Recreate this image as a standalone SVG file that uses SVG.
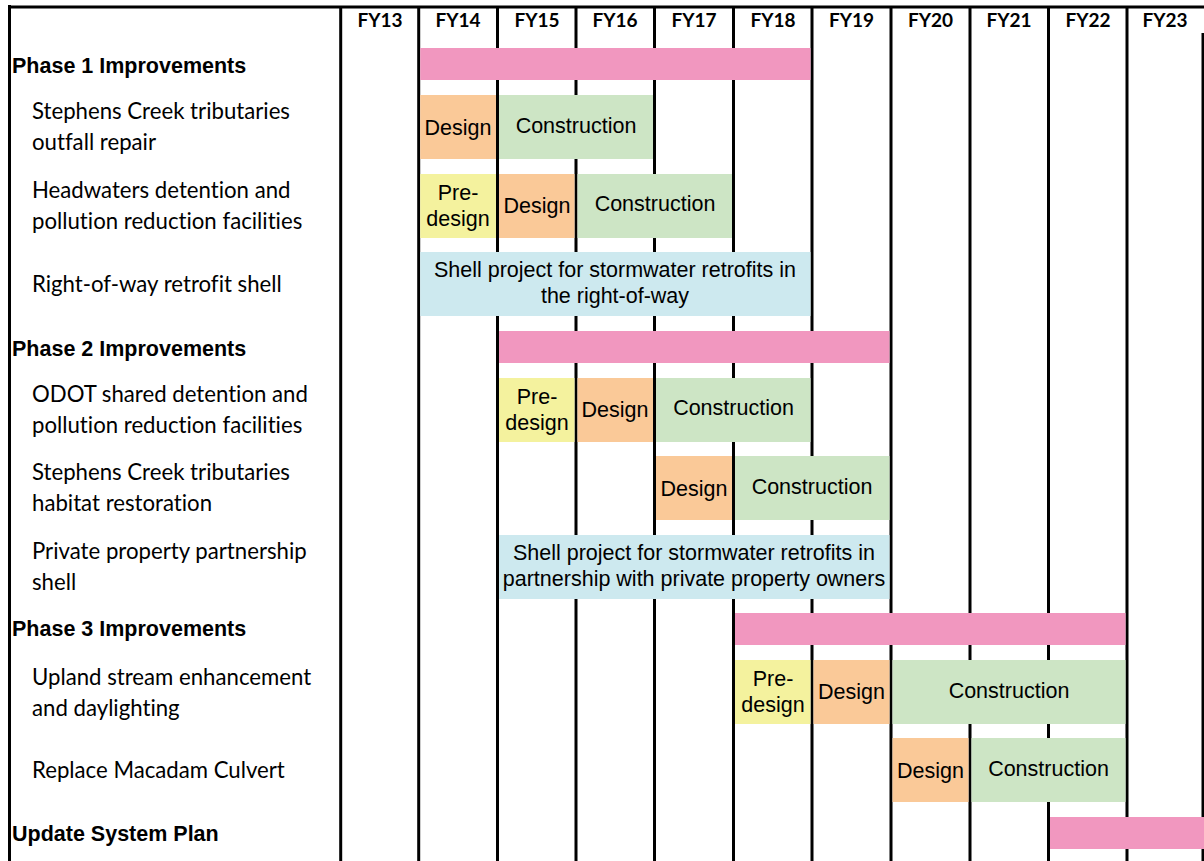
<svg xmlns="http://www.w3.org/2000/svg" width="1204" height="861" viewBox="0 0 1204 861">
<style>
.grid{stroke:#000;stroke-width:3;fill:none}
.hdr{font-family:Lato,"Liberation Sans",sans-serif;font-weight:bold;font-size:19px;text-anchor:middle;fill:#000}
.ph{font-family:"Liberation Sans",Arial,sans-serif;font-weight:bold;font-size:21.5px;fill:#000}
.lbl{font-family:Lato,"Liberation Sans",sans-serif;font-size:22.2px;fill:#000;font-variant-ligatures:none}
.bt{font-family:"Liberation Sans",Arial,sans-serif;font-size:21.5px;text-anchor:middle;fill:#000}
.pink{fill:#F197BF}
.des{fill:#FAC998}
.con{fill:#CDE5C5}
.pre{fill:#F4F29E}
.shl{fill:#CDE9EF}
</style>
<rect width="1204" height="861" fill="#fff"/>
<g id="grid">
<line class="grid" x1="8" y1="7" x2="1204" y2="7" stroke-width="3.5"/>
<line class="grid" x1="9.5" y1="5" x2="9.5" y2="861"/>
<line class="grid" x1="340.7" y1="7" x2="340.7" y2="861"/>
<line class="grid" x1="418.7" y1="7" x2="418.7" y2="861"/>
<line class="grid" x1="497.5" y1="7" x2="497.5" y2="861"/>
<line class="grid" x1="576" y1="7" x2="576" y2="861"/>
<line class="grid" x1="654.5" y1="7" x2="654.5" y2="861"/>
<line class="grid" x1="733.5" y1="7" x2="733.5" y2="861"/>
<line class="grid" x1="812" y1="7" x2="812" y2="861"/>
<line class="grid" x1="891" y1="7" x2="891" y2="861"/>
<line class="grid" x1="970" y1="7" x2="970" y2="861"/>
<line class="grid" x1="1048.5" y1="7" x2="1048.5" y2="861"/>
<line class="grid" x1="1127" y1="7" x2="1127" y2="861"/>
<line class="grid" x1="1203" y1="33" x2="1203" y2="861"/>
</g>
<g id="header">
<text class="hdr" x="380" y="27">FY13</text>
<text class="hdr" x="458" y="27">FY14</text>
<text class="hdr" x="537" y="27">FY15</text>
<text class="hdr" x="615" y="27">FY16</text>
<text class="hdr" x="694" y="27">FY17</text>
<text class="hdr" x="773" y="27">FY18</text>
<text class="hdr" x="851.5" y="27">FY19</text>
<text class="hdr" x="930.5" y="27">FY20</text>
<text class="hdr" x="1009" y="27">FY21</text>
<text class="hdr" x="1088" y="27">FY22</text>
<text class="hdr" x="1165" y="27">FY23</text>
</g>
<g id="phase1">
<text class="ph" x="12" y="72.5">Phase 1 Improvements</text>
<rect class="pink" x="420.2" y="48" width="390.3" height="32"/>
</g>
<g id="task-outfall">
<text class="lbl" x="32" y="119">Stephens Creek tributaries</text>
<text class="lbl" x="32" y="150">outfall repair</text>
<rect class="des" x="420.2" y="95" width="75.8" height="64"/>
<text class="bt" x="458" y="134.5">Design</text>
<rect class="con" x="499" y="95" width="154" height="64"/>
<text class="bt" x="576" y="133">Construction</text>
</g>
<g id="task-headwaters">
<text class="lbl" x="32" y="198">Headwaters detention and</text>
<text class="lbl" x="32" y="229">pollution reduction facilities</text>
<rect class="pre" x="420.2" y="174" width="75.8" height="64"/>
<text class="bt" x="458" y="200">Pre-</text>
<text class="bt" x="458" y="226">design</text>
<rect class="des" x="499" y="174" width="75.5" height="64"/>
<text class="bt" x="537" y="212.5">Design</text>
<rect class="con" x="577.5" y="174" width="154.5" height="64"/>
<text class="bt" x="655" y="211">Construction</text>
</g>
<g id="task-row">
<text class="lbl" x="32" y="292">Right-of-way retrofit shell</text>
<rect class="shl" x="420.2" y="252" width="390.3" height="64"/>
<text class="bt" x="615" y="277">Shell project for stormwater retrofits in</text>
<text class="bt" x="615" y="303">the right-of-way</text>
</g>
<g id="phase2">
<text class="ph" x="12" y="356">Phase 2 Improvements</text>
<rect class="pink" x="499" y="331" width="390.5" height="32"/>
</g>
<g id="task-odot">
<text class="lbl" x="32" y="402">ODOT shared detention and</text>
<text class="lbl" x="32" y="433">pollution reduction facilities</text>
<rect class="pre" x="499" y="378" width="75.5" height="64"/>
<text class="bt" x="537" y="404">Pre-</text>
<text class="bt" x="537" y="430">design</text>
<rect class="des" x="577.5" y="378" width="75.5" height="64"/>
<text class="bt" x="615" y="416.5">Design</text>
<rect class="con" x="656" y="378" width="154.5" height="64"/>
<text class="bt" x="733.5" y="415">Construction</text>
</g>
<g id="task-habitat">
<text class="lbl" x="32" y="480">Stephens Creek tributaries</text>
<text class="lbl" x="32" y="511">habitat restoration</text>
<rect class="des" x="656" y="456" width="76" height="64"/>
<text class="bt" x="694" y="495.5">Design</text>
<rect class="con" x="735" y="456" width="154.5" height="64"/>
<text class="bt" x="812" y="494">Construction</text>
</g>
<g id="task-private">
<text class="lbl" x="32" y="559">Private property partnership</text>
<text class="lbl" x="32" y="590">shell</text>
<rect class="shl" x="499" y="535" width="390.5" height="64"/>
<text class="bt" x="694" y="560">Shell project for stormwater retrofits in</text>
<text class="bt" x="694" y="586">partnership with private property owners</text>
</g>
<g id="phase3">
<text class="ph" x="12" y="636">Phase 3 Improvements</text>
<rect class="pink" x="735" y="613" width="390.5" height="32"/>
</g>
<g id="task-upland">
<text class="lbl" x="32" y="685">Upland stream enhancement</text>
<text class="lbl" x="32" y="716">and daylighting</text>
<rect class="pre" x="735" y="660" width="75.5" height="64"/>
<text class="bt" x="773" y="686">Pre-</text>
<text class="bt" x="773" y="712">design</text>
<rect class="des" x="813.5" y="660" width="76" height="64"/>
<text class="bt" x="851.5" y="699">Design</text>
<rect class="con" x="892.5" y="660" width="233" height="64"/>
<text class="bt" x="1009" y="698">Construction</text>
</g>
<g id="task-macadam">
<text class="lbl" x="32" y="778">Replace Macadam Culvert</text>
<rect class="des" x="892.5" y="738" width="76" height="64"/>
<text class="bt" x="930.5" y="777.5">Design</text>
<rect class="con" x="971.5" y="738" width="154" height="64"/>
<text class="bt" x="1048.5" y="776">Construction</text>
</g>
<g id="update-plan">
<text class="ph" x="12" y="841">Update System Plan</text>
<rect class="pink" x="1050" y="817" width="154" height="32"/>
</g>
</svg>
